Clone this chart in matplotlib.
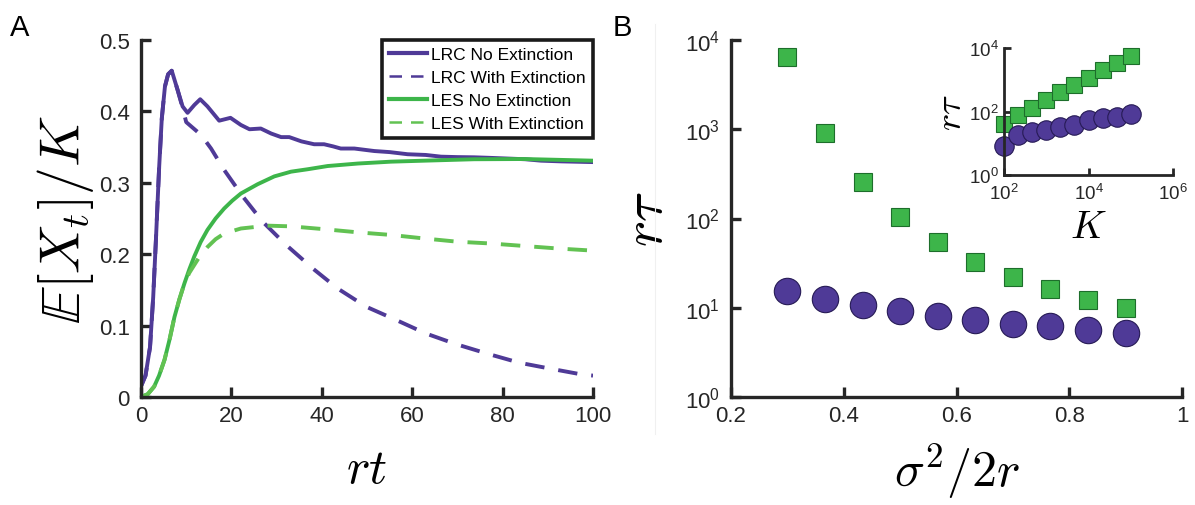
import numpy as np
import matplotlib
matplotlib.use("Agg")
import matplotlib.pyplot as plt
from matplotlib.lines import Line2D

plt.rcParams['font.family'] = ['Liberation Sans', 'DejaVu Sans']
plt.rcParams['mathtext.fontset'] = 'cm'

# Panel A data
t_lrc = [0, 1, 2, 2.7, 3.3, 4, 4.6, 5.3, 6, 6.8, 8.1, 9.2, 10.3, 11.8, 13.1, 14.7,
         17.3, 19.8, 22.1, 24, 26.5, 28.8, 31, 32.8, 35.5, 38.3, 40.5, 42.5, 44.2,
         47.2, 51.6, 55, 59, 63, 66.4, 70, 73.7, 77, 81, 85, 88.5, 93, 100]
y_lrc = [0.015, 0.03, 0.07, 0.14, 0.22, 0.32, 0.39, 0.435, 0.452, 0.457, 0.43, 0.407,
         0.398, 0.409, 0.417, 0.407, 0.387, 0.391, 0.381, 0.375, 0.376, 0.369, 0.364,
         0.364, 0.358, 0.354, 0.354, 0.351, 0.348, 0.348, 0.3445, 0.343, 0.340, 0.339,
         0.3366, 0.336, 0.3357, 0.335, 0.334, 0.333, 0.331, 0.330, 0.329]

t_lrc_ext = [0, 1, 2, 2.7, 3.3, 4, 4.6, 5.3, 6, 6.8, 8.1, 9.2, 10.0, 13.3, 15.5, 18.4,
             22.5, 26.9, 32.1, 38.2, 43.5, 49.8, 56.4, 63, 69.7, 77, 83.7, 90.3, 98, 100]
y_lrc_ext = [0.015, 0.03, 0.07, 0.14, 0.22, 0.32, 0.39, 0.435, 0.452, 0.457, 0.43,
             0.405, 0.385, 0.367, 0.348, 0.318, 0.281, 0.2456, 0.213, 0.179, 0.152,
             0.1265, 0.108, 0.089, 0.074, 0.060, 0.048, 0.040, 0.031, 0.030]

t_les = [0, 1.5, 2.9, 4, 5.2, 6.3, 7.4, 8.5, 9.6, 10.7, 11.8, 13.2, 14.7, 16.5, 18.4,
         20.2, 22.1, 25.8, 29.5, 33.2, 36.9, 41.3, 48, 55.3, 62.7, 73.7, 84.8, 100]
y_les = [0.0, 0.004, 0.0145, 0.03, 0.052, 0.08, 0.112, 0.137, 0.159, 0.179, 0.197,
         0.217, 0.234, 0.25, 0.264, 0.275, 0.285, 0.298, 0.309, 0.3156, 0.319, 0.3235,
         0.327, 0.3296, 0.331, 0.333, 0.3333, 0.331]

t_les_ext = [0, 1.5, 2.9, 4, 5.2, 6.3, 7.4, 8.5, 9.6, 10.7, 11.8, 13, 14.7, 16.5, 18.4,
             22.1, 28, 33.2, 40.6, 48, 55.3, 62.7, 70, 77.4, 84.8, 92.2, 100]
y_les_ext = [0.0, 0.004, 0.0145, 0.03, 0.052, 0.08, 0.112, 0.137, 0.159, 0.174, 0.185,
             0.197, 0.21, 0.221, 0.229, 0.236, 0.240, 0.239, 0.235, 0.2306, 0.227,
             0.222, 0.2175, 0.215, 0.2115, 0.208, 0.205]

# Panel B data
sigma = [0.3, 0.3667, 0.4333, 0.5, 0.5667, 0.6333, 0.7, 0.7667, 0.8333, 0.9]
tau_les = [6480, 918, 254, 104, 54, 32.7, 22.1, 16.2, 12.1, 10.0]
tau_lrc = [15.4, 12.5, 10.7, 9.2, 8.1, 7.3, 6.6, 6.2, 5.6, 5.2]

# Inset data
K = [100, 215, 464, 1000, 2154, 4642, 10000, 21544, 46416, 100000]
tauK_les = [41, 75, 127, 234, 408, 695, 1130, 1970, 3360, 5590]
tauK_lrc = [8.0, 18.3, 22, 27, 33.6, 38.8, 54.6, 61.6, 69.5, 84.4]

purple = '#4f3a97'
green = '#3db54a'
green_l = '#62c252'
spine = '#262626'


def style(ax, fs=16, tl=7, lw=2.4):
    for s in ['top', 'right']:
        ax.spines[s].set_visible(False)
    for s in ['left', 'bottom']:
        ax.spines[s].set_linewidth(lw)
        ax.spines[s].set_color(spine)
    ax.tick_params(direction='in', length=tl, width=lw, color=spine,
                   labelsize=fs, labelcolor='#262626', pad=6)
    ax.tick_params(axis='y', pad=8)


fig = plt.figure(figsize=(11.95, 5.06), dpi=100)

# Panel A
axA = fig.add_axes([141 / 1195, 108 / 506, 452 / 1195, 357 / 506])
axA.plot(t_lrc, y_lrc, color=purple, lw=2.8, label='LRC No Extinction')
axA.plot(t_lrc_ext, y_lrc_ext, color=purple, lw=2.8, dashes=(5, 3.6),
         label='LRC With Extinction')
axA.plot(t_les, y_les, color=green, lw=2.8, label='LES No Extinction')
axA.plot(t_les_ext, y_les_ext, color=green_l, lw=2.8, dashes=(5, 3.6),
         label='LES With Extinction')
axA.set_xlim(0, 100)
axA.set_ylim(0, 0.5)
axA.set_xticks([0, 20, 40, 60, 80, 100])
axA.set_yticks([0, 0.1, 0.2, 0.3, 0.4, 0.5])
axA.set_yticklabels(['0', '0.1', '0.2', '0.3', '0.4', '0.5'])
style(axA)
axA.set_xlabel(r'$rt$', fontsize=36, labelpad=14)
axA.set_ylabel(r'$\mathbb{E}[X_t]/K$', fontsize=40, labelpad=2)
leg = axA.legend(loc='upper right', fontsize=12.5, frameon=True, fancybox=False,
                 framealpha=1, edgecolor='#1a1a1a', handlelength=2.2,
                 handletextpad=0.25, borderpad=0.4, labelspacing=0.45,
                 borderaxespad=0.0)
leg.get_frame().set_linewidth(2.6)
for h in leg.get_lines():
    h.set_linewidth(3.0 if h.get_linestyle() == '-' else 1.8)

# Panel B
axB = fig.add_axes([731 / 1195, 108 / 506, 451 / 1195, 357 / 506])
axB.set_yscale('log')
axB.plot(sigma, tau_les, ls='none', marker='s', ms=13.5, mfc=green,
         mec='#1d6e2b', mew=0.8)
axB.plot(sigma, tau_lrc, ls='none', marker='o', ms=19, mfc=purple,
         mec='#261a55', mew=0.8)
axB.set_xlim(0.2, 1)
axB.set_ylim(1, 1e4)
axB.set_xticks([0.2, 0.4, 0.6, 0.8, 1])
axB.set_xticklabels(['0.2', '0.4', '0.6', '0.8', '1'])
axB.set_yticks([1, 10, 100, 1000, 10000])
axB.minorticks_off()
style(axB)
axB.set_xlabel(r'$\sigma^2/2r$', fontsize=36, labelpad=10)
axB.set_ylabel(r'$r\tau$', fontsize=40, labelpad=8)

# Inset
axI = fig.add_axes([1004 / 1195, 330 / 506, 169 / 1195, 127 / 506])
axI.set_xscale('log')
axI.set_yscale('log')
axI.plot(K, tauK_les, ls='none', marker='s', ms=11, mfc=green,
         mec='#1d6e2b', mew=0.8, clip_on=False)
axI.plot(K, tauK_lrc, ls='none', marker='o', ms=14, mfc=purple,
         mec='#261a55', mew=0.8, clip_on=False)
axI.set_xlim(1e2, 1e6)
axI.set_ylim(1, 1e4)
axI.set_xticks([1e2, 1e4, 1e6])
axI.set_yticks([1, 1e2, 1e4])
axI.minorticks_off()
style(axI, fs=13.5, tl=5, lw=2.0)
axI.tick_params(axis='y', pad=4)
axI.set_xlabel(r'$K$', fontsize=28, labelpad=4)
axI.set_ylabel(r'$r\tau$', fontsize=26, labelpad=0)

# panel letters and faint divider
fig.text(10 / 1195, 1 - 36 / 506, 'A', fontsize=21)
fig.text(613 / 1195, 1 - 36 / 506, 'B', fontsize=21)
fig.add_artist(Line2D([655 / 1195, 655 / 1195], [1 - 435 / 506, 1 - 25 / 506],
                      color='#f0f0f0', lw=0.8))

fig.savefig('out.png', dpi=100)
